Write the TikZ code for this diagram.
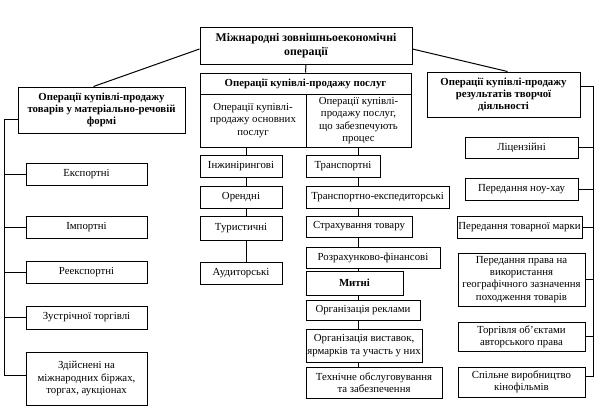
\documentclass[tikz,border=0pt]{standalone}
\usepackage{fontspec}
\setmainfont{Liberation Serif}
\usetikzlibrary{calc}
\begin{document}
\begin{tikzpicture}[x=1pt,y=-1pt,
  box/.style={draw, line width=1pt, align=center, inner xsep=0pt, inner ysep=0.5pt, font=\fontsize{10.8}{12.2}\selectfont},
  bbox/.style={box, font=\bfseries\fontsize{10.8}{12.2}\selectfont},
  topbox/.style={box, font=\bfseries\fontsize{11.8}{13.5}\selectfont},
  conn/.style={line width=1pt}]
\useasboundingbox (0,0) rectangle (600,418);
% top
\node[topbox, minimum width=212, minimum height=37] (top) at (306,45.5) {Міжнародні зовнішньоекономічні\\операції};
\node[bbox, minimum width=167, minimum height=46] (goods) at (101.5,110) {Операції купівлі-продажу\\товарів у матеріально-речовій\\формі};
\node[bbox, minimum width=153, minimum height=45] (cr) at (503.5,94.5) {Операції купівлі-продажу\\результатів творчої\\діяльності};
% services
\node[bbox, minimum width=211, minimum height=21] (svcH) at (305.5,83.5) {Операції купівлі-продажу послуг};
\node[box, minimum width=106, minimum height=53] (svcL) at (253,120.5) {Операції купівлі-\\продажу основних\\послуг};
\node[box, minimum width=105, minimum height=53] (svcR) at (358.5,120.5) {Операції купівлі-\\продажу послуг,\\що забезпечують\\процес};
% left column of services
\node[box, minimum width=82, minimum height=22] (inz) at (241,166) {Інжинірингові};
\node[box, minimum width=82, minimum height=22] (ore) at (241,197) {Орендні};
\node[box, minimum width=82, minimum height=24] (tur) at (241,228) {Туристичні};
\node[box, minimum width=82, minimum height=22] (aud) at (241,273) {Аудиторські};
% right column of services
\node[box, minimum width=74, minimum height=22] (tr) at (343,166) {Транспортні};
\node[box, minimum width=143, minimum height=22] (te) at (377.5,197) {Транспортно-експедиторські};
\node[box, minimum width=106, minimum height=21] (st) at (359,226.5) {Страхування товару};
\node[box, minimum width=134, minimum height=21] (rf) at (373,257.5) {Розрахунково-фінансові};
\node[bbox, minimum width=97, minimum height=24] (my) at (354.5,283) {Митні};
\node[box, minimum width=114, minimum height=20] (or) at (363,310) {Організація реклами};
\node[box, minimum width=116, minimum height=33] (ov) at (364,345.5) {Організація виставок,\\ярмарків та участь у них};
\node[box, minimum width=136, minimum height=31] (tz) at (374,382.5) {Технічне обслуговування\\та забезпечення};
% left children
\node[box, minimum width=121, minimum height=22] (exp) at (86.5,174) {Експортні};
\node[box, minimum width=121, minimum height=22] (imp) at (86.5,227) {Імпортні};
\node[box, minimum width=121, minimum height=22] (rex) at (86.5,272) {Реекспортні};
\node[box, minimum width=121, minimum height=23] (zus) at (86.5,317.5) {Зустрічної торгівлі};
\node[box, minimum width=121, minimum height=53] (zd) at (86.5,378.5) {Здійснені на\\міжнародних біржах,\\торгах, аукціонах};
% right children
\node[box, minimum width=113, minimum height=21] (lic) at (521.5,147.5) {Ліцензійні};
\node[box, minimum width=113, minimum height=22] (nh) at (521.5,189) {Передання ноу-хау};
\node[box, minimum width=125, minimum height=22] (tm) at (519.5,227) {Передання товарної марки};
\node[box, minimum width=127, minimum height=53] (gp) at (521.5,279.5) {Передання права на\\використання\\географічного зазначення\\походження товарів};
\node[box, minimum width=127, minimum height=29] (ta) at (521.5,336.5) {Торгівля об’єктами\\авторського права};
\node[box, minimum width=127, minimum height=30] (sp) at (521.5,382) {Спільне виробництво\\кінофільмів};
% coordinates
\coordinate (lc) at (246,0);
\coordinate (rc) at (358,0);
\coordinate (lv) at (4,0);
\coordinate (rv) at (593,0);
% connectors
\draw[conn] ([yshift=-3.5]top.west) -- ([xshift=-8]goods.north);
\draw[conn] ([yshift=-3.5]top.east) -- ([xshift=4]cr.north);
\draw[conn] (top.south) -- (svcH.north);
\draw[conn] (svcL.south -| lc) -- (inz.north -| lc);
\draw[conn] (inz.south -| lc) -- (ore.north -| lc);
\draw[conn] (ore.south -| lc) -- (tur.north -| lc);
\draw[conn] (tur.south -| lc) -- (aud.north -| lc);
\draw[conn] (svcR.south -| rc) -- (tr.north -| rc);
\draw[conn] (tr.south -| rc) -- (te.north -| rc);
\draw[conn] (te.south -| rc) -- (st.north -| rc);
\draw[conn] (st.south -| rc) -- (rf.north -| rc);
\draw[conn] (rf.south -| rc) -- (my.north -| rc);
\draw[conn] (my.south -| rc) -- (or.north -| rc);
\draw[conn] (or.south -| rc) -- (ov.north -| rc);
\draw[conn] (ov.south -| rc) -- (tz.north -| rc);
% left tree
\draw[conn] ([yshift=-9]goods.west) -- ([yshift=-9]goods.west -| lv) -- ([yshift=3]zd.west -| lv) -- ([yshift=3]zd.west);
\foreach \n in {exp,imp,rex,zus} \draw[conn] (\n.west) -- (\n.west -| lv);
% right tree
\draw[conn] ([yshift=8]cr.east) -- ([yshift=8]cr.east -| rv) -- ([yshift=6]sp.east -| rv) -- ([yshift=6]sp.east);
\foreach \n in {lic,nh,tm,gp,ta} \draw[conn] (\n.east) -- (\n.east -| rv);
\end{tikzpicture}
\end{document}
